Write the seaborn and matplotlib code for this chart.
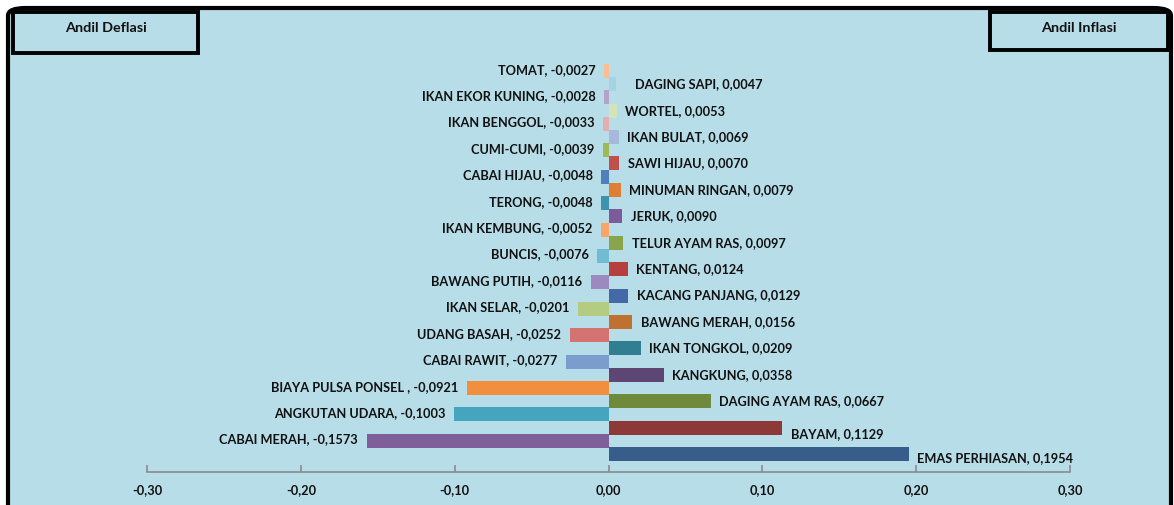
import matplotlib
matplotlib.use("Agg")
import matplotlib.pyplot as plt
import seaborn as sns
import pandas as pd
from matplotlib.patches import FancyBboxPatch, Rectangle

# rows from top to bottom, deflasi and inflasi interleaved
items = [
    "TOMAT", "DAGING SAPI", "IKAN EKOR KUNING", "WORTEL", "IKAN BENGGOL",
    "IKAN BULAT", "CUMI-CUMI", "SAWI HIJAU", "CABAI HIJAU", "MINUMAN RINGAN",
    "TERONG", "JERUK", "IKAN KEMBUNG", "TELUR AYAM RAS", "BUNCIS", "KENTANG",
    "BAWANG PUTIH", "KACANG PANJANG", "IKAN SELAR", "BAWANG MERAH",
    "UDANG BASAH", "IKAN TONGKOL", "CABAI RAWIT", "KANGKUNG",
    "BIAYA PULSA PONSEL ", "DAGING AYAM RAS", "ANGKUTAN UDARA", "BAYAM",
    "CABAI MERAH", "EMAS PERHIASAN",
]
andil = [
    -0.0027, 0.0047, -0.0028, 0.0053, -0.0033, 0.0069, -0.0039, 0.0070,
    -0.0048, 0.0079, -0.0048, 0.0090, -0.0052, 0.0097, -0.0076, 0.0124,
    -0.0116, 0.0129, -0.0201, 0.0156, -0.0252, 0.0209, -0.0277, 0.0358,
    -0.0921, 0.0667, -0.1003, 0.1129, -0.1573, 0.1954,
]
colors = [
    "#fbbd92", "#a6d3e3", "#b4a3c8", "#d5e3bb", "#e4aeae",
    "#a8b8dc", "#9cbb58", "#c0504d", "#4f7fbd", "#df7f36",
    "#3b94ab", "#7b5b9a", "#f9a56a", "#89a54b", "#71bcd3", "#b5413f",
    "#9c8abf", "#4369a6", "#b4cc82", "#c1712f",
    "#d37472", "#307e90", "#7a9dce", "#5d4574",
    "#f18f3e", "#708a3c", "#45a5bf", "#8c3937",
    "#7e5f99", "#385d8b",
]
xticks = [-0.30, -0.20, -0.10, 0.00, 0.10, 0.20, 0.30]

df = pd.DataFrame({"item": items, "andil": andil})

fig = plt.figure(figsize=(11.74, 5.05), dpi=100)
fig.patch.set_facecolor("white")

bg = "#b7dde8"
ink = "#111111"
frame = FancyBboxPatch((8 / 1174, -0.05), 1163 / 1174, 1 - 8 / 505 + 0.05,
                       boxstyle="round,pad=0,rounding_size=0.015",
                       transform=fig.transFigure, facecolor=bg,
                       edgecolor="black", linewidth=3, zorder=-2)
fig.patches.append(frame)

ax = fig.add_axes([147 / 1174, 1 - 472 / 505, 923 / 1174, (472 - 57.8) / 505])
ax.set_facecolor("none")
ax.set_zorder(1)

sns.barplot(data=df, x="andil", y="item", hue="item", palette=colors,
            orient="h", width=1.06, legend=False, ax=ax, saturation=1)

ax.set_xlim(-0.30, 0.30)
ax.set_ylim(30.36, -1.0)

fam = ["Lato", "DejaVu Sans"]
label_shift = {"DAGING SAPI": (8, 0), "BAYAM": (0, -5), "EMAS PERHIASAN": (0, -3)}
for i, (name, v) in enumerate(zip(items, andil)):
    txt = f"{name}, {v:.4f}".replace(".", ",")
    dx, dy = label_shift.get(name, (0, 0))
    if v < 0:
        ax.annotate(txt, (v, i), xytext=(-6 + dx, 1 + dy), textcoords="offset points",
                    ha="right", va="center", fontsize=9.2, fontweight="bold",
                    family=fam, color=ink)
    else:
        ax.annotate(txt, (v, i), xytext=(6 + dx, dy), textcoords="offset points",
                    ha="left", va="center", fontsize=9.2, fontweight="bold",
                    family=fam, color=ink)

for s in ["top", "right", "left"]:
    ax.spines[s].set_visible(False)
ax.spines["bottom"].set_color("#8c8c8c")
ax.spines["bottom"].set_linewidth(1.2)
ax.set_xticks(xticks)
ax.set_xticklabels([f"{t:.2f}".replace(".", ",") for t in xticks],
                   fontsize=9.2, fontweight="bold", family=fam, color=ink)
ax.tick_params(axis="x", direction="in", length=5, color="#8c8c8c", width=1.2, pad=9)
ax.set_yticks([])
ax.set_xlabel("")
ax.set_ylabel("")

# title boxes
fig.patches.append(Rectangle((13 / 1174, 1 - 53 / 505), 185 / 1174, 41 / 505,
                             transform=fig.transFigure, facecolor=bg,
                             edgecolor="black", linewidth=2.8, zorder=2))
fig.patches.append(Rectangle((990 / 1174, 1 - 50 / 505), 178 / 1174, 38 / 505,
                             transform=fig.transFigure, facecolor=bg,
                             edgecolor="black", linewidth=2.8, zorder=2))
fig.text(106 / 1174, 1 - 28 / 505, "Andil Deflasi", ha="center", va="center",
         fontsize=10.4, fontweight="bold", family=fam, color=ink, zorder=3)
fig.text(1079 / 1174, 1 - 28 / 505, "Andil Inflasi", ha="center", va="center",
         fontsize=10.4, fontweight="bold", family=fam, color=ink, zorder=3)

fig.savefig("out.png", dpi=100, facecolor="white")
